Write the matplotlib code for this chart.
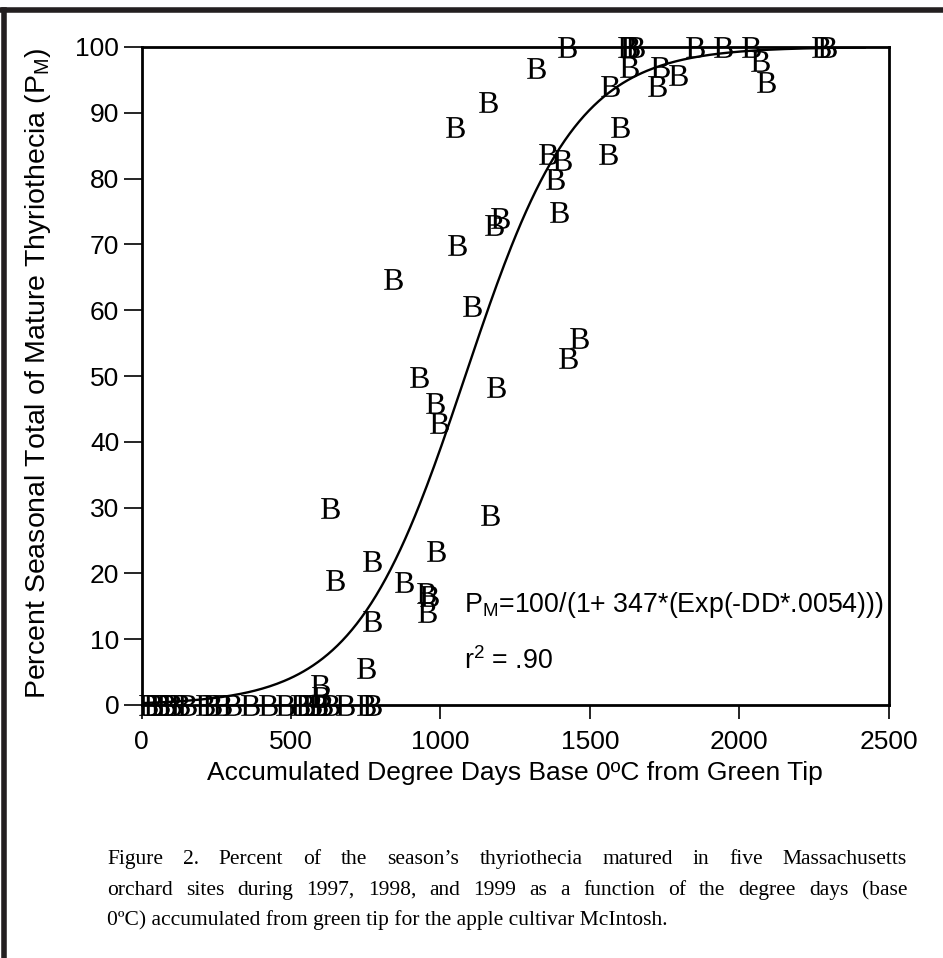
import numpy as np
import matplotlib.pyplot as plt
from matplotlib.lines import Line2D

plt.rcParams['font.family'] = ['Liberation Sans', 'DejaVu Sans']
plt.rcParams['mathtext.fontset'] = 'custom'
plt.rcParams['mathtext.rm'] = 'Liberation Serif'
plt.rcParams['mathtext.sf'] = 'Liberation Sans'

# observed points: accumulated degree days vs percent of season total matured
degree_days = [22, 39, 62, 82, 102, 129, 152, 213, 236, 270, 303, 363, 424, 481,
               531, 548, 571, 591, 608, 631, 681, 752, 772,
               598, 600, 752, 771, 955, 953, 962, 877, 648, 771, 986, 1165, 631,
               994, 981, 927, 1186, 1426, 1463, 1106, 843, 1056, 1178, 1200,
               1396, 1385, 1359, 1407, 1560, 1602, 1048, 1161, 1569, 1725,
               1630, 1734, 1796, 1320, 2071, 2091,
               1422, 1625, 1635, 1650, 1851, 1946, 2038, 2275, 2295]
pct_mature = [0] * 23 + \
             [3.0, 1.2, 5.6, 12.7, 14.2, 17.0, 16.6, 18.7, 19.0, 21.9, 23.4, 28.8, 29.9,
              42.8, 45.9, 49.9, 48.4, 52.7, 55.7, 60.6, 64.8, 69.9, 72.9, 74.0,
              75.0, 80.0, 83.8, 82.8, 83.8, 87.9, 87.9, 91.7, 94.0, 94.0,
              97.0, 97.0, 95.7, 96.8, 97.8, 94.7,
              100, 100, 100, 100, 100, 100, 100, 100, 100]

# fitted logistic model printed on the chart
a, b = 347, 0.0054
dd_fit = np.linspace(0, 2420, 300)
p_fit = 100 / (1 + a * np.exp(-dd_fit * b))

x_ticks = [0, 500, 1000, 1500, 2000, 2500]
y_ticks = [0, 10, 20, 30, 40, 50, 60, 70, 80, 90, 100]

caption = ["Figure 2.  Percent of the season\u2019s thyriothecia matured in five Massachusetts",
           "orchard sites during 1997, 1998, and 1999 as a function of the degree days (base",
           "0\u00baC) accumulated from green tip for the apple cultivar McIntosh."]

W, H = 943, 958
fig = plt.figure(figsize=(W / 100, H / 100), dpi=100)
ax = fig.add_axes([141.5 / W, 1 - 705 / H, (888.7 - 141.5) / W, (705 - 47) / H])

ax.plot(dd_fit, p_fit, color='black', lw=1.7)
ax.plot(degree_days, pct_mature, ls='none', marker=r'$\mathrm{B}$',
        ms=15, color='black', mew=0, clip_on=False)

ax.set_xlim(0, 2500)
ax.set_ylim(0, 100)
ax.set_xticks(x_ticks)
ax.set_yticks(y_ticks)
ax.tick_params(axis='x', direction='out', length=10, width=1.2, pad=8, labelsize=19)
ax.tick_params(axis='y', direction='out', length=13, width=1.2, pad=3, labelsize=19)
for s in ax.spines.values():
    s.set_linewidth(2)

ax.set_xlabel('Accumulated Degree Days Base 0\u00baC from Green Tip', fontsize=19, labelpad=5)
ax.set_ylabel(r'Percent Seasonal Total of Mature Thyriothecia (P$_\mathsf{M}$)',
              fontsize=20.5, labelpad=6)
ax.yaxis.set_label_coords(-0.118, 0.505)

ax.text(1080, 14.1, r'P$_\mathsf{M}$=100/(1+ 347*(Exp(-DD*.0054)))', fontsize=19.3, va='baseline')
ax.text(1080, 5.4, r'r$^\mathsf{2}$ = .90', fontsize=19.3, va='baseline')

# page frame pieces (top and left edges)
fig.add_artist(Line2D([0, 1], [1 - 9.5 / H, 1 - 9.5 / H], color='#231f20', lw=4))
fig.add_artist(Line2D([4 / W, 4 / W], [0, 1 - 9.5 / H], color='#231f20', lw=4))

# caption, first two lines justified word by word
renderer = fig.canvas.get_renderer()
left, right = 107 / W, 907 / W
baselines = [864, 895, 925]
cap_size = 15.5
for i, line in enumerate(caption):
    yb = 1 - baselines[i] / H
    if i == len(caption) - 1:
        fig.text(left, yb, line, family='Liberation Serif', fontsize=cap_size, va='baseline')
        continue
    words = [w for w in line.split(' ') if w]
    texts = [fig.text(0, yb, w, family='Liberation Serif', fontsize=cap_size, va='baseline')
             for w in words]
    widths = [t.get_window_extent(renderer).width / W for t in texts]
    gap = (right - left - sum(widths)) / (len(words) - 1)
    x = left
    for t, w in zip(texts, widths):
        t.set_x(x)
        x += w + gap

fig.savefig('out.png', dpi=100)
